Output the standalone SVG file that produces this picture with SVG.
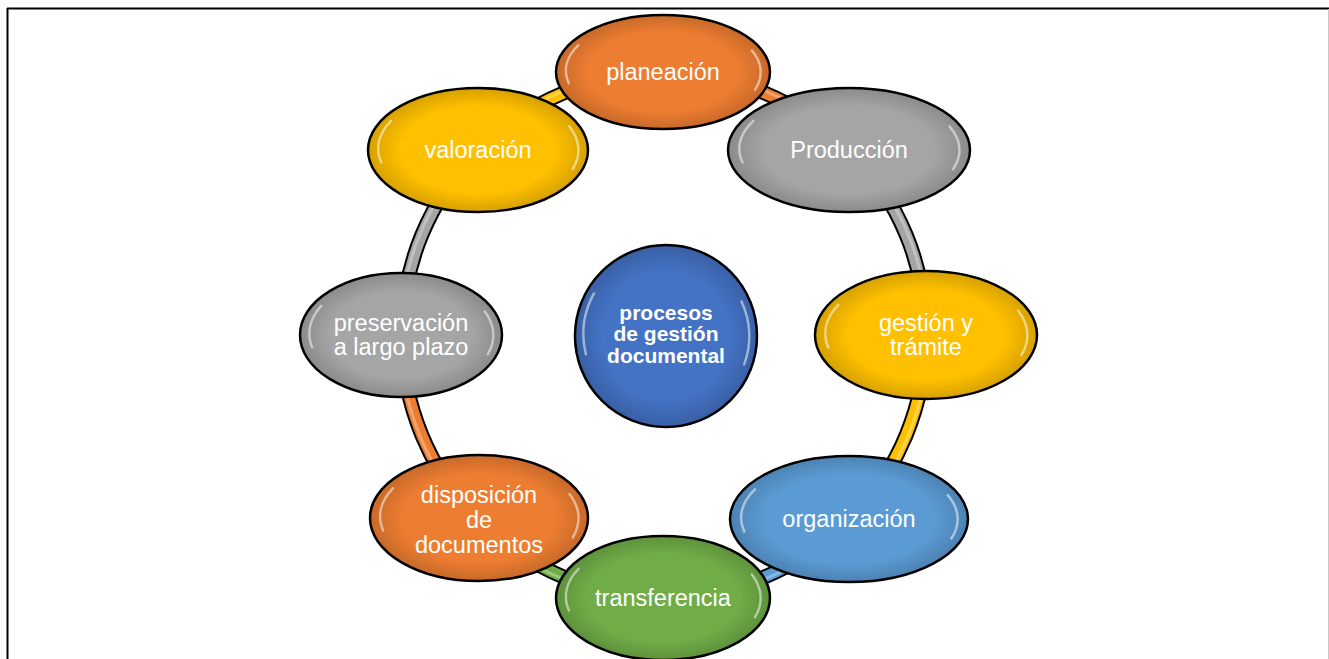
<svg xmlns="http://www.w3.org/2000/svg" xmlns:xlink="http://www.w3.org/1999/xlink" width="1329" height="659" viewBox="0 0 1329 659">
<style>
.lbl{font-family:"Liberation Sans",Arial,sans-serif;font-size:23.5px;fill:#fff;text-anchor:middle}
.ctr{font-family:"Liberation Sans",Arial,sans-serif;font-size:21px;font-weight:bold;fill:#fff;text-anchor:middle}
.node{stroke:#000;stroke-width:2.5}
.shade{fill:url(#shade);stroke:none}
.hl{fill:none;stroke:#fff;stroke-opacity:0.5;stroke-width:2.5;stroke-linecap:round}
.tubeO{fill:none;stroke:#000;stroke-width:15}
.tube{fill:none;stroke-width:11}
.tubeH{fill:none;stroke:#fff;stroke-opacity:0.3;stroke-width:3}
</style>
<defs>
<radialGradient id="shade" cx="0.5" cy="0.5" r="0.5">
<stop offset="0.7" stop-color="#000" stop-opacity="0"/>
<stop offset="1" stop-color="#000" stop-opacity="0.16"/>
</radialGradient>
<path id="hlL" d="M -0.88 0.2 A 0.92 0.92 0 0 1 -0.79 -0.47" class="hl" vector-effect="non-scaling-stroke"/>
<path id="hlR" d="M 0.83 -0.38 A 0.92 0.92 0 0 1 0.86 0.31" class="hl" vector-effect="non-scaling-stroke"/>
</defs>
<rect width="1329" height="659" fill="#fff"/>
<line x1="7" y1="8.5" x2="1329" y2="8.5" stroke="#000" stroke-width="2"/>
<line x1="7.5" y1="8" x2="7.5" y2="659" stroke="#000" stroke-width="2"/>
<line x1="1328.5" y1="9" x2="1328.5" y2="659" stroke="#c8c8c8" stroke-width="1"/>

<g id="connectors">
<g class="tubeO">
<path d="M 664 73 A 262 262 0 0 1 849.3 149.7"/>
<path d="M 849.3 149.7 A 262 262 0 0 1 926 335"/>
<path d="M 926 335 A 262 262 0 0 1 849.3 520.3"/>
<path d="M 849.3 520.3 A 262 262 0 0 1 664 597"/>
<path d="M 664 597 A 262 262 0 0 1 478.7 520.3"/>
<path d="M 478.7 520.3 A 262 262 0 0 1 402 335"/>
<path d="M 402 335 A 262 262 0 0 1 478.7 149.7"/>
<path d="M 478.7 149.7 A 262 262 0 0 1 664 73"/>
</g>
<path class="tube" stroke="#ED7D31" d="M 664 73 A 262 262 0 0 1 849.3 149.7"/>
<path class="tube" stroke="#A5A5A5" d="M 849.3 149.7 A 262 262 0 0 1 926 335"/>
<path class="tube" stroke="#FFC000" d="M 926 335 A 262 262 0 0 1 849.3 520.3"/>
<path class="tube" stroke="#5B9BD5" d="M 849.3 520.3 A 262 262 0 0 1 664 597"/>
<path class="tube" stroke="#70AD47" d="M 664 597 A 262 262 0 0 1 478.7 520.3"/>
<path class="tube" stroke="#ED7D31" d="M 478.7 520.3 A 262 262 0 0 1 402 335"/>
<path class="tube" stroke="#A5A5A5" d="M 402 335 A 262 262 0 0 1 478.7 149.7"/>
<path class="tube" stroke="#FFC000" d="M 478.7 149.7 A 262 262 0 0 1 664 73"/>
<g class="tubeH">
<path d="M 664 71 A 264 264 0 0 1 850.7 148.3"/>
<path d="M 850.7 148.3 A 264 264 0 0 1 928 335"/>
<path d="M 928 335 A 264 264 0 0 1 850.7 521.7"/>
<path d="M 850.7 521.7 A 264 264 0 0 1 664 599"/>
<path d="M 664 599 A 264 264 0 0 1 477.3 521.7"/>
<path d="M 477.3 521.7 A 264 264 0 0 1 400 335"/>
<path d="M 400 335 A 264 264 0 0 1 477.3 148.3"/>
<path d="M 477.3 148.3 A 264 264 0 0 1 664 71"/>
</g>
</g>

<g id="node-planeacion">
<ellipse class="node" cx="663" cy="72" rx="107" ry="57" fill="#ED7D31"/>
<ellipse class="shade" cx="663" cy="72" rx="107" ry="57"/>
<use xlink:href="#hlL" transform="translate(663,72) scale(107,57)"/>
<use xlink:href="#hlR" transform="translate(663,72) scale(107,57)"/>
<text class="lbl" x="663" y="80">planeación</text>
</g>

<g id="node-produccion">
<ellipse class="node" cx="849" cy="150" rx="121" ry="62" fill="#A5A5A5"/>
<ellipse class="shade" cx="849" cy="150" rx="121" ry="62"/>
<use xlink:href="#hlL" transform="translate(849,150) scale(121,62)"/>
<use xlink:href="#hlR" transform="translate(849,150) scale(121,62)"/>
<text class="lbl" x="849" y="158">Producción</text>
</g>

<g id="node-gestion">
<ellipse class="node" cx="926" cy="335" rx="111" ry="64" fill="#FFC000"/>
<ellipse class="shade" cx="926" cy="335" rx="111" ry="64"/>
<use xlink:href="#hlL" transform="translate(926,335) scale(111,64)"/>
<use xlink:href="#hlR" transform="translate(926,335) scale(111,64)"/>
<text class="lbl" x="926" y="331">gestión y</text>
<text class="lbl" x="926" y="355">trámite</text>
</g>

<g id="node-organizacion">
<ellipse class="node" cx="849" cy="519" rx="119" ry="63" fill="#5B9BD5"/>
<ellipse class="shade" cx="849" cy="519" rx="119" ry="63"/>
<use xlink:href="#hlL" transform="translate(849,519) scale(119,63)"/>
<use xlink:href="#hlR" transform="translate(849,519) scale(119,63)"/>
<text class="lbl" x="849" y="527">organización</text>
</g>

<g id="node-transferencia">
<ellipse class="node" cx="663" cy="598" rx="107" ry="62" fill="#70AD47"/>
<ellipse class="shade" cx="663" cy="598" rx="107" ry="62"/>
<use xlink:href="#hlL" transform="translate(663,598) scale(107,62)"/>
<use xlink:href="#hlR" transform="translate(663,598) scale(107,62)"/>
<text class="lbl" x="663" y="606">transferencia</text>
</g>

<g id="node-disposicion">
<ellipse class="node" cx="479" cy="518" rx="109" ry="63" fill="#ED7D31"/>
<ellipse class="shade" cx="479" cy="518" rx="109" ry="63"/>
<use xlink:href="#hlL" transform="translate(479,518) scale(109,63)"/>
<use xlink:href="#hlR" transform="translate(479,518) scale(109,63)"/>
<text class="lbl" x="479" y="503">disposición</text>
<text class="lbl" x="479" y="528">de</text>
<text class="lbl" x="479" y="553">documentos</text>
</g>

<g id="node-preservacion">
<ellipse class="node" cx="401" cy="335" rx="101" ry="62" fill="#A5A5A5"/>
<ellipse class="shade" cx="401" cy="335" rx="101" ry="62"/>
<use xlink:href="#hlL" transform="translate(401,335) scale(101,62)"/>
<use xlink:href="#hlR" transform="translate(401,335) scale(101,62)"/>
<text class="lbl" x="401" y="331">preservación</text>
<text class="lbl" x="401" y="355">a largo plazo</text>
</g>

<g id="node-valoracion">
<ellipse class="node" cx="478" cy="150" rx="110" ry="62" fill="#FFC000"/>
<ellipse class="shade" cx="478" cy="150" rx="110" ry="62"/>
<use xlink:href="#hlL" transform="translate(478,150) scale(110,62)"/>
<use xlink:href="#hlR" transform="translate(478,150) scale(110,62)"/>
<text class="lbl" x="478" y="158">valoración</text>
</g>

<g id="node-center">
<ellipse class="node" cx="666" cy="336" rx="91" ry="91" fill="#4472C4"/>
<ellipse class="shade" cx="666" cy="336" rx="91" ry="91"/>
<use xlink:href="#hlL" transform="translate(666,336) scale(91,91)"/>
<use xlink:href="#hlR" transform="translate(666,336) scale(91,91)"/>
<text class="ctr" x="666" y="320">procesos</text>
<text class="ctr" x="666" y="341">de gestión</text>
<text class="ctr" x="666" y="363">documental</text>
</g>
</svg>
